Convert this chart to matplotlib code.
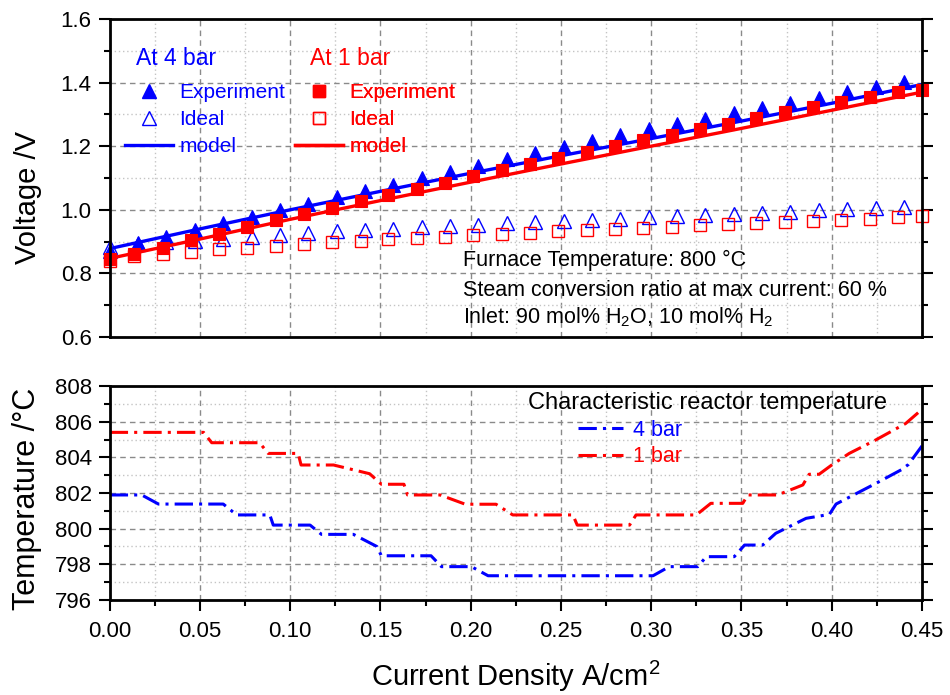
import matplotlib
matplotlib.use("Agg")
import matplotlib.pyplot as plt
from matplotlib.ticker import MultipleLocator, FormatStrFormatter
from matplotlib.lines import Line2D

plt.rcParams['font.family'] = ['Liberation Sans', 'DejaVu Sans']
plt.rcParams['mathtext.fontset'] = 'custom'
plt.rcParams['mathtext.rm'] = 'Liberation Sans'
plt.rcParams['mathtext.it'] = 'Liberation Sans:italic'

BLUE = '#0000ff'
RED = '#ff0000'

# ---------------- polarisation data ----------------
# current density grid at 4 bar
j_4bar = [0.0000, 0.0157, 0.0314, 0.0471, 0.0629, 0.0786, 0.0943, 0.1100, 0.1257,
          0.1414, 0.1571, 0.1729, 0.1886, 0.2043, 0.2200, 0.2357, 0.2514, 0.2671,
          0.2829, 0.2986, 0.3143, 0.3300, 0.3457, 0.3614, 0.3771, 0.3929, 0.4086,
          0.4243, 0.4400]
v_exp_4bar = [0.872, 0.895, 0.916, 0.937, 0.957, 0.978, 0.998, 1.019, 1.039,
              1.059, 1.079, 1.099, 1.119, 1.139, 1.159, 1.178, 1.197, 1.217,
              1.236, 1.253, 1.270, 1.287, 1.303, 1.320, 1.337, 1.353, 1.370,
              1.386, 1.403]
v_ideal_4bar = [0.884, 0.892, 0.898, 0.903, 0.908, 0.914, 0.920, 0.927, 0.934,
                0.937, 0.941, 0.945, 0.949, 0.953, 0.957, 0.961, 0.965, 0.968,
                0.972, 0.976, 0.980, 0.983, 0.987, 0.991, 0.994, 0.998, 1.001,
                1.005, 1.009]

# current density grid at 1 bar
j_1bar = [0.0000, 0.0136, 0.0293, 0.0449, 0.0606, 0.0763, 0.0919, 0.1076, 0.1233,
          0.1390, 0.1543, 0.1700, 0.1856, 0.2013, 0.2173, 0.2330, 0.2486, 0.2643,
          0.2800, 0.2956, 0.3113, 0.3270, 0.3426, 0.3583, 0.3740, 0.3896, 0.4053,
          0.4210, 0.4367, 0.4500]
v_exp_1bar = [0.845, 0.860, 0.881, 0.904, 0.925, 0.946, 0.967, 0.988, 1.007,
              1.027, 1.046, 1.066, 1.085, 1.105, 1.124, 1.145, 1.164, 1.182,
              1.202, 1.219, 1.236, 1.255, 1.271, 1.289, 1.307, 1.322, 1.339,
              1.354, 1.370, 1.378]
v_ideal_1bar = [0.840, 0.855, 0.862, 0.868, 0.876, 0.881, 0.887, 0.893, 0.898,
                0.903, 0.907, 0.911, 0.915, 0.920, 0.924, 0.928, 0.932, 0.936,
                0.940, 0.944, 0.947, 0.951, 0.954, 0.958, 0.962, 0.965, 0.969,
                0.972, 0.976, 0.979]

# model curves
j_model = [0.00, 0.05, 0.10, 0.15, 0.20, 0.25, 0.30, 0.35, 0.40, 0.45]
v_model_4bar = [0.878, 0.940, 1.000, 1.058, 1.115, 1.170, 1.224, 1.279, 1.335, 1.394]
v_model_1bar = [0.847, 0.908, 0.970, 1.029, 1.087, 1.144, 1.200, 1.256, 1.313, 1.370]

# ---------------- reactor temperature ----------------
j_temp_4bar = [0.0000, 0.0177, 0.0270, 0.0629, 0.0703, 0.0887, 0.0906, 0.1110,
               0.1173, 0.1350, 0.1480, 0.1505, 0.1780, 0.1838, 0.2004, 0.2096,
               0.3010, 0.3100, 0.3258, 0.3305, 0.3460, 0.3517, 0.3618, 0.3690,
               0.3858, 0.3987, 0.4024, 0.4245, 0.4385, 0.4425, 0.4500]
t_4bar = [801.89, 801.89, 801.38, 801.38, 800.77, 800.77, 800.20, 800.20,
          799.68, 799.68, 799.00, 798.48, 798.48, 797.87, 797.87, 797.36,
          797.36, 797.87, 797.87, 798.43, 798.43, 799.08, 799.08, 799.74,
          800.58, 800.80, 801.38, 802.54, 803.30, 803.60, 804.64]

j_temp_1bar = [0.0000, 0.0520, 0.0565, 0.0830, 0.0878, 0.1044, 0.1060, 0.1240,
               0.1440, 0.1505, 0.1630, 0.1650, 0.1830, 0.1970, 0.2140, 0.2233,
               0.2566, 0.2590, 0.2880, 0.2916, 0.3250, 0.3330, 0.3507, 0.3535,
               0.3700, 0.3840, 0.3875, 0.3930, 0.4000, 0.4097, 0.4243, 0.4410,
               0.4500]
t_1bar = [805.40, 805.40, 804.82, 804.82, 804.22, 804.22, 803.57, 803.57,
          803.08, 802.49, 802.49, 801.89, 801.89, 801.37, 801.37, 800.77,
          800.77, 800.20, 800.20, 800.77, 800.77, 801.42, 801.42, 801.89,
          801.89, 802.45, 803.05, 803.05, 803.57, 804.22, 804.97, 805.90,
          806.69]

x_ticks = [0.00, 0.05, 0.10, 0.15, 0.20, 0.25, 0.30, 0.35, 0.40, 0.45]

notes = ['Furnace Temperature: 800 \u00b0C',
         'Steam conversion ratio at max current: 60 %',
         'Inlet: 90 mol% H$_2$O, 10 mol% H$_2$']

fig = plt.figure(figsize=(9.5, 6.95), dpi=100)
ax1 = fig.add_axes([0.1155, 0.5151, 0.855, 0.4576])
ax2 = fig.add_axes([0.1155, 0.1367, 0.855, 0.3079])


def fx(px):
    return px / 950


def fy(py):
    return 1 - py / 695


def style_axes(ax):
    for s in ax.spines.values():
        s.set_linewidth(2.0)
        s.set_zorder(10)
    ax.set_axisbelow(True)
    ax.grid(which='major', color='#8a8a8a', linestyle=(0, (4, 3)), linewidth=1.0)
    ax.grid(which='minor', color='#c4c4c4', linestyle=(0, (1, 2)), linewidth=1.0)
    ax.tick_params(which='major', direction='out', length=8, width=1.5,
                   labelsize=16, pad=5)
    ax.tick_params(which='minor', direction='out', length=4, width=1.5)
    ax.tick_params(axis='y', which='both', right=True)
    ax.tick_params(axis='y', which='major', labelright=False)
    ax.set_xlim(0, 0.45)
    ax.xaxis.set_major_locator(MultipleLocator(0.05))
    ax.xaxis.set_minor_locator(MultipleLocator(0.025))


style_axes(ax1)
style_axes(ax2)

# ---- upper panel: voltage ----
ax1.set_ylim(0.6, 1.6)
ax1.yaxis.set_major_locator(MultipleLocator(0.2))
ax1.yaxis.set_minor_locator(MultipleLocator(0.1))
ax1.yaxis.set_major_formatter(FormatStrFormatter('%.1f'))
ax1.tick_params(axis='x', which='both', length=0, labelbottom=False)
ax1.set_ylabel('Voltage /V', fontsize=21)
ax1.yaxis.set_label_coords(-0.083, 0.44)

ax1.plot(j_model, v_model_4bar, color=BLUE, lw=2.4, zorder=3)
ax1.plot(j_4bar, v_ideal_4bar, ls='none', marker='^', ms=9.5, mfc='none',
         mec=BLUE, mew=1.0, zorder=4, clip_on=False)
ax1.plot(j_4bar, v_exp_4bar, ls='none', marker='^', ms=10.5, mfc=BLUE,
         mec=BLUE, mew=0.8, zorder=4, clip_on=False)
ax1.plot(j_model, v_model_1bar, color=RED, lw=2.4, zorder=5)
ax1.plot(j_1bar, v_ideal_1bar, ls='none', marker='s', ms=8.5, mfc='none',
         mec=RED, mew=1.0, zorder=6, clip_on=False)
ax1.plot(j_1bar, v_exp_1bar, ls='none', marker='s', ms=8.5, mfc=RED,
         mec=RED, mew=0.8, zorder=6, clip_on=False)

# legend blocks
fig.text(fx(136), fy(65), 'At 4 bar', color=BLUE, fontsize=16.5,
         ha='left', va='baseline')
fig.text(fx(310), fy(65), 'At 1 bar', color=RED, fontsize=16.5,
         ha='left', va='baseline')

h4 = [Line2D([], [], ls='none', marker='^', ms=10.5, mfc=BLUE, mec=BLUE),
      Line2D([], [], ls='none', marker='^', ms=9.5, mfc='none', mec=BLUE),
      Line2D([], [], color=BLUE, lw=2.4)]
h1 = [Line2D([], [], ls='none', marker='s', ms=8.5, mfc=RED, mec=RED),
      Line2D([], [], ls='none', marker='s', ms=8.5, mfc='none', mec=RED),
      Line2D([], [], color=RED, lw=2.4)]
labels = ['Experiment', 'Ideal', 'model']
for handles, color, x0 in ((h4, BLUE, 125), (h1, RED, 295)):
    leg = ax1.legend(handles, labels, loc='upper left',
                     bbox_to_anchor=(fx(x0), fy(83)),
                     bbox_transform=fig.transFigure, frameon=False,
                     fontsize=15, handlelength=2.3, handletextpad=0.3,
                     labelspacing=0.38, borderpad=0, borderaxespad=0,
                     labelcolor=color)
    ax1.add_artist(leg)

for text, base in zip(notes, (266.5, 295.5, 323.5)):
    fig.text(fx(463), fy(base), text, fontsize=15.5, ha='left', va='baseline')

# ---- lower panel: temperature ----
ax2.set_ylim(796, 808)
ax2.yaxis.set_major_locator(MultipleLocator(2))
ax2.yaxis.set_minor_locator(MultipleLocator(1))
ax2.set_xticks(x_ticks)
ax2.xaxis.set_major_formatter(FormatStrFormatter('%.2f'))
ax2.tick_params(axis='x', which='major', pad=7)
ax2.set_ylabel('Temperature /\u00b0C', fontsize=22)
ax2.yaxis.set_label_coords(-0.083, 0.472)
ax2.set_xlabel('Current Density A/cm$^2$', fontsize=21, labelpad=12)

dashdot = (0, (6, 2, 1, 2))
ax2.plot(j_temp_4bar, t_4bar, color=BLUE, lw=2.2, ls=dashdot, zorder=3,
         label='4 bar')
ax2.plot(j_temp_1bar, t_1bar, color=RED, lw=2.2, ls=dashdot, zorder=3,
         label='1 bar')
fig.text(fx(708), fy(409), 'Characteristic reactor temperature',
         fontsize=17, ha='center', va='baseline')
leg2 = ax2.legend(loc='upper left', bbox_to_anchor=(fx(578), fy(420)),
                  bbox_transform=fig.transFigure, frameon=False, fontsize=15.5,
                  handlelength=2.1, handletextpad=0.45, labelspacing=0.25,
                  borderpad=0, borderaxespad=0, labelcolor='linecolor')

fig.savefig('out.png', dpi=100)
